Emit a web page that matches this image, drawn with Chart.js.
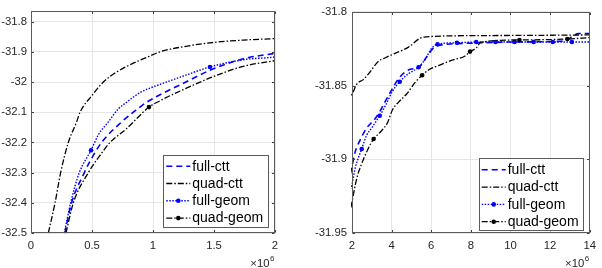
<!DOCTYPE html>
<html>
<head>
<meta charset="utf-8">
<script src="https://cdn.jsdelivr.net/npm/chart.js@4"></script>
<style>
  html, body { margin: 0; padding: 0; background: #fff; }
  #wrap { position: relative; width: 602px; height: 268px; overflow: hidden; }
  canvas { position: absolute; top: 0; }
</style>
</head>
<body>
<div id="wrap">
  <canvas id="c1" width="300" height="268" style="left:0px"></canvas>
  <canvas id="c2" width="302" height="268" style="left:300px"></canvas>
</div>
<script>
// ---------------- data (x in units of 10^6) ----------------
const seriesNames = ['full-ctt', 'quad-ctt', 'full-geom', 'quad-geom'];

const fullCttX = [0.278, 0.333, 0.437, 0.484, 0.579, 0.743, 0.839, 0.948, 1.249, 1.467, 1.74, 2.0, 2.16, 2.41, 2.73, 3.14, 3.39, 3.63, 3.96, 4.37, 4.94, 5.34, 5.75, 6.08, 6.32, 6.81, 8.28, 10.0, 12.5, 12.77, 13.1, 13.42, 14.0];
const fullCttY = [-32.5, -32.4, -32.3, -32.262, -32.2, -32.132, -32.1, -32.067, -32.004, -31.961, -31.923, -31.905, -31.895, -31.887, -31.879, -31.873, -31.868, -31.862, -31.854, -31.845, -31.839, -31.838, -31.831, -31.825, -31.823, -31.822, -31.8212, -31.8205, -31.820, -31.8195, -31.817, -31.8148, -31.8147];

const quadCttX = [0.142, 0.197, 0.243, 0.306, 0.374, 0.402, 0.497, 0.593, 0.689, 0.811, 0.962, 1.057, 1.249, 1.495, 1.74, 2.0, 2.245, 2.57, 2.90, 3.30, 3.71, 4.20, 4.85, 5.43, 5.75, 8.0, 11.0, 14.0];
const quadCttY = [-32.5, -32.4, -32.3, -32.2, -32.132, -32.1, -32.046, -32.0, -31.970, -31.943, -31.916, -31.9, -31.883, -31.869, -31.861, -31.856, -31.849, -31.846, -31.841, -31.834, -31.831, -31.828, -31.824, -31.818, -31.817, -31.8162, -31.816, -31.8157];

const fullGeomX = [0.273, 0.325, 0.396, 0.492, 0.552, 0.634, 0.716, 0.784, 0.893, 0.975, 1.057, 1.249, 1.467, 1.74, 2.0, 2.16, 2.49, 2.73, 2.98, 3.40, 3.71, 4.04, 4.41, 4.85, 5.36, 5.75, 6.0, 6.32, 7.30, 8.27, 9.24, 10.2, 11.17, 12.14, 13.1, 14.0];
const fullGeomY = [-32.5, -32.4, -32.3, -32.226, -32.175, -32.132, -32.089, -32.067, -32.035, -32.020, -32.008, -31.980, -31.950, -31.926, -31.917, -31.906, -31.893, -31.884, -31.879, -31.8705, -31.863, -31.854, -31.8474, -31.842, -31.8376, -31.831, -31.825, -31.822, -31.821, -31.8205, -31.8205, -31.8205, -31.8205, -31.8205, -31.8205, -31.8205];
const fullGeomMarks = [0.492, 1.467, 2.49, 3.40, 4.41, 5.36, 6.32, 7.30, 8.27, 9.24, 10.2, 11.17, 12.14, 13.1];

const quadGeomX = [0.287, 0.347, 0.470, 0.571, 0.648, 0.784, 0.967, 1.057, 1.249, 1.495, 1.74, 2.0, 2.245, 2.49, 2.81, 3.09, 3.47, 3.79, 4.04, 4.37, 4.77, 5.18, 5.54, 5.92, 6.49, 7.14, 7.71, 7.96, 8.28, 8.5, 10.45, 12.87, 14.0];
const quadGeomY = [-32.5, -32.4, -32.3, -32.240, -32.2, -32.154, -32.083, -32.062, -32.025, -31.982, -31.948, -31.929, -31.9127, -31.903, -31.893, -31.8863, -31.881, -31.8753, -31.8666, -31.861, -31.8556, -31.848, -31.843, -31.839, -31.8358, -31.8325, -31.830, -31.827, -31.8244, -31.8206, -31.8191, -31.8185, -31.8175];
const quadGeomMarks = [0.967, 3.09, 5.54, 7.96, 10.45, 12.87];

const leftXTicks = [0, 0.5, 1, 1.5, 2];
const leftYTicks = [-32.5, -32.4, -32.3, -32.2, -32.1, -32, -31.9, -31.8];
const rightXTicks = [2, 4, 6, 8, 10, 12, 14];
const rightYTicks = [-31.95, -31.9, -31.85, -31.8];
const expLabel = ['\u00d710', '6'];

// ---------------- styles ----------------
const FONT = "'Liberation Sans', Arial, Helvetica, sans-serif";
const TICK_COLOR = '#262626';
const BLUE = '#0000ff';
const BLACK = '#000000';

const styles = [
  { color: BLUE,  dash: [6, 4],          width: 1.6, marks: null },
  { color: BLACK, dash: [6, 2, 1.5, 2],  width: 1.3, marks: null },
  { color: BLUE,  dash: [1.5, 1.5],      width: 1.4, marks: fullGeomMarks },
  { color: BLACK, dash: [6, 2, 1.5, 2],  width: 1.3, marks: quadGeomMarks }
];
const seriesX = [fullCttX, quadCttX, fullGeomX, quadGeomX];
const seriesY = [fullCttY, quadCttY, fullGeomY, quadGeomY];

function fmt(v) { return parseFloat(Number(v).toFixed(2)).toString(); }

function buildDatasets() {
  return seriesNames.map((name, i) => {
    const st = styles[i];
    return {
      label: name,
      data: seriesX[i].map((x, k) => ({ x: x, y: seriesY[i][k] })),
      borderColor: st.color,
      backgroundColor: st.color,
      borderWidth: st.width,
      borderDash: st.dash,
      fill: false,
      cubicInterpolationMode: 'monotone',
      pointRadius: (ctx) => (st.marks && ctx.raw && st.marks.includes(ctx.raw.x)) ? 2.3 : 0,
      pointHoverRadius: 0,
      pointBorderWidth: 0,
      pointBackgroundColor: st.color,
      clip: 1,
      order: 4 - i
    };
  });
}

const decoPlugin = {
  id: 'deco',
  afterDatasetsDraw(chart) {
    const o = chart.options.plugins.deco;
    const ctx = chart.ctx;
    const a = chart.chartArea;
    const L = Math.round(a.left) + 0.5, R = Math.round(a.right) - 0.5;
    const T = Math.round(a.top) + 0.5, B = Math.round(a.bottom) - 0.5;
    ctx.save();
    // inner tick marks
    ctx.strokeStyle = '#404040';
    ctx.lineWidth = 1;
    ctx.setLineDash([]);
    const xs = chart.scales.x, ys = chart.scales.y;
    ctx.beginPath();
    o.xTicks.forEach(v => {
      const px = Math.round(xs.getPixelForValue(v)) + 0.5;
      ctx.moveTo(px, B); ctx.lineTo(px, B - 2.5);
      ctx.moveTo(px, T); ctx.lineTo(px, T + 2.5);
    });
    o.yTicks.forEach(v => {
      const py = Math.round(ys.getPixelForValue(v)) + 0.5;
      ctx.moveTo(L, py); ctx.lineTo(L + 2.5, py);
      ctx.moveTo(R, py); ctx.lineTo(R - 2.5, py);
    });
    ctx.stroke();
    // axes box
    ctx.strokeStyle = '#5a5a5a';
    ctx.strokeRect(L, T, R - L, B - T);

    // legend
    const lg = o.legend;
    const bx = a.right - lg.right - lg.w, by = a.bottom - lg.bottom - lg.h;
    ctx.fillStyle = '#ffffff';
    ctx.fillRect(bx, by, lg.w, lg.h);
    ctx.strokeStyle = '#5a5a5a';
    ctx.lineWidth = 1;
    ctx.strokeRect(Math.round(bx) + 0.5, Math.round(by) + 0.5, Math.round(lg.w) - 1, Math.round(lg.h) - 1);
    ctx.font = '14px ' + FONT;
    ctx.textBaseline = 'middle';
    ctx.textAlign = 'left';
    seriesNames.forEach((name, i) => {
      const st = styles[i];
      const ry = by + 11.5 + i * 17.3;
      const x0 = bx + 3, x1 = bx + 27;
      ctx.strokeStyle = st.color;
      ctx.lineWidth = st.width;
      ctx.setLineDash(st.dash);
      ctx.beginPath();
      ctx.moveTo(x0, ry); ctx.lineTo(x1, ry);
      ctx.stroke();
      ctx.setLineDash([]);
      if (st.marks) {
        ctx.fillStyle = st.color;
        ctx.beginPath();
        ctx.arc((x0 + x1) / 2, ry, 2.3, 0, Math.PI * 2);
        ctx.fill();
      }
      ctx.fillStyle = '#000000';
      ctx.fillText(name, bx + 29, ry + 0.5);
    });

    // exponent label
    ctx.fillStyle = TICK_COLOR;
    ctx.textBaseline = 'alphabetic';
    ctx.textAlign = 'right';
    ctx.font = '11.3px ' + FONT;
    ctx.fillText(expLabel[0], a.right - 5.5, 267);
    ctx.textAlign = 'left';
    ctx.font = '8px ' + FONT;
    ctx.fillText(expLabel[1], a.right - 5, 261);
    ctx.restore();
  }
};

function makeChart(canvas, opt) {
  return new Chart(canvas, {
    type: 'line',
    data: { datasets: buildDatasets() },
    plugins: [decoPlugin],
    options: {
      responsive: false,
      animation: false,
      devicePixelRatio: 1,
      events: [],
      layout: { padding: { top: 6, right: opt.padRight, bottom: 0, left: 0 } },
      plugins: {
        legend: { display: false },
        tooltip: { enabled: false },
        deco: { xTicks: opt.xTicks, yTicks: opt.yTicks, legend: opt.legend }
      },
      scales: {
        x: {
          type: 'linear',
          min: opt.xMin, max: opt.xMax,
          afterBuildTicks: (s) => { s.ticks = opt.xTicks.map(v => ({ value: v })); },
          afterFit: (s) => { s.height = 35; },
          grid: { color: '#e6e6e6', lineWidth: 1, drawTicks: false },
          border: { display: false },
          ticks: {
            autoSkip: false, maxRotation: 0, padding: 6,
            color: TICK_COLOR, font: { family: FONT, size: 11.3 },
            callback: (v) => fmt(v)
          }
        },
        y: {
          type: 'linear',
          min: opt.yMin, max: opt.yMax,
          afterBuildTicks: (s) => { s.ticks = opt.yTicks.map(v => ({ value: v })); },
          afterFit: (s) => { s.width = opt.yWidth; },
          grid: { color: '#e6e6e6', lineWidth: 1, drawTicks: false },
          border: { display: false },
          ticks: {
            autoSkip: false, padding: opt.yPad,
            color: TICK_COLOR, font: { family: FONT, size: 11.3 },
            callback: (v) => fmt(v)
          }
        }
      }
    }
  });
}

makeChart(document.getElementById('c1'), {
  xMin: 0, xMax: 2, yMin: -32.5, yMax: -31.764,
  xTicks: leftXTicks, yTicks: leftYTicks,
  yWidth: 31, yPad: 4, padRight: 25,
  legend: { w: 106, h: 73, right: 5.7, bottom: 5.3 }
});
makeChart(document.getElementById('c2'), {
  xMin: 2, xMax: 14, yMin: -31.95, yMax: -31.8,
  xTicks: rightXTicks, yTicks: rightYTicks,
  yWidth: 52, yPad: 5, padRight: 5,
  legend: { w: 105, h: 73.4, right: 6, bottom: 1.3 }
});
</script>
</body>
</html>
